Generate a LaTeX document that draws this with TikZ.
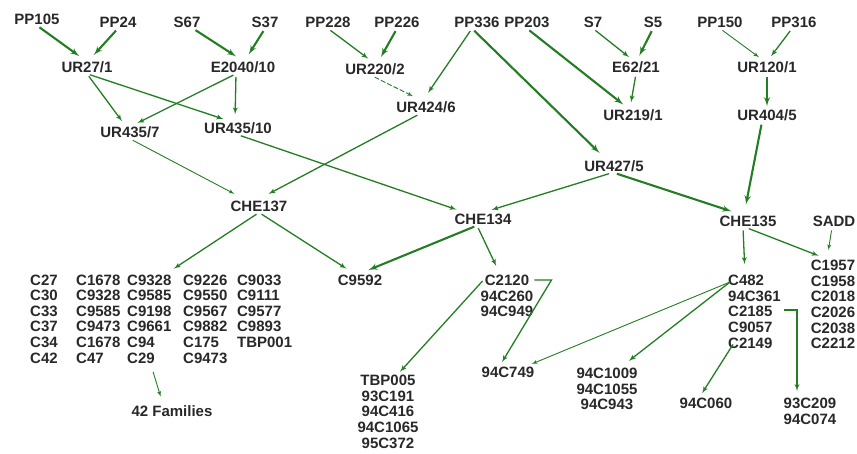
\documentclass[tikz,border=0pt]{standalone}
\usepackage{fontspec}
\setmainfont{Liberation Sans}
\usetikzlibrary{arrows}
\definecolor{pedgreen}{RGB}{35,125,35}
\definecolor{pedtext}{RGB}{40,40,40}
\setlength{\tabcolsep}{0pt}

\begin{document}
\begin{tikzpicture}[x=1pt,y=-1pt,>=latex',
  every node/.style={inner sep=1pt,text=pedtext,font=\bfseries\fontsize{15}{15.6}\selectfont},
  pedarr/.style={->,draw=pedgreen,shorten <=3pt,shorten >=7pt},
  weakarr/.style={pedarr,line width=0.9pt},
  midarr/.style={pedarr,line width=1.3pt},
  strongarr/.style={pedarr,line width=2.1pt}]
  \useasboundingbox (0,0) rectangle (857,453);

  \node (pp105) at (37,19) {PP105};
  \node (pp24) at (118,22) {PP24};
  \node (s67) at (187,22) {S67};
  \node (s37) at (265,22) {S37};
  \node (pp228) at (328,22) {PP228};
  \node (pp226) at (397,22) {PP226};
  \node (pp336) at (477,22) {PP336};
  \node (pp203) at (527,22) {PP203};
  \node (s7) at (593,22) {S7};
  \node (s5) at (653,22) {S5};
  \node (pp150) at (720,22) {PP150};
  \node (pp316) at (794,22) {PP316};

  \node (ur271) at (87,67) {UR27/1};
  \node (e2040) at (243,67) {E2040/10};
  \node (ur2202) at (375,69) {UR220/2};
  \node (e6221) at (636,67) {E62/21};
  \node (ur1201) at (767,67) {UR120/1};
  \node (ur4357) at (130,132) {UR435/7};
  \node (ur43510) at (238,128) {UR435/10};
  \node (ur4246) at (426,107) {UR424/6};
  \node (ur2191) at (633,115) {UR219/1};
  \node (ur4045) at (767,115) {UR404/5};
  \node (ur4275) at (614,166) {UR427/5};

  \node (che137) at (259,206) {CHE137};
  \node (che134) at (483,219) {CHE134};
  \node (che135) at (748,221) {CHE135};
  \node (sadd) at (834,221) {SADD};

  \node (fam) [anchor=north west] at (29,273) {\begin{tabular}{@{}p{46pt}p{51pt}p{56pt}p{54pt}l@{}}
    C27 & C1678 & C9328 & C9226 & C9033\\
    C30 & C9328 & C9585 & C9550 & C9111\\
    C33 & C9585 & C9198 & C9567 & C9577\\
    C37 & C9473 & C9661 & C9882 & C9893\\
    C34 & C1678 & C94 & C175 & TBP001\\
    C42 & C47 & C29 & C9473 &
  \end{tabular}};
  \node (fam42) at (172,411) {42 Families};
  \node (c9592) at (360,280) {C9592};
  \node (c2120) [anchor=north,align=center] at (507,274) {C2120\\94C260\\94C949};
  \node (tbp005) [anchor=north,align=center] at (388,374) {TBP005\\93C191\\94C416\\94C1065\\95C372};
  \node (c749) at (508,372) {94C749};
  \node (c482) [anchor=north west,align=left] at (727,274) {C482\\94C361\\C2185\\C9057\\C2149};
  \node (c1957) [anchor=north,align=center] at (833,259) {C1957\\C1958\\C2018\\C2026\\C2038\\C2212};
  \node (c1009) [anchor=north,align=center] at (607,367) {94C1009\\94C1055\\94C943};
  \node (c060) at (706,403) {94C060};
  \node (c209) [anchor=north,align=center] at (810,397) {93C209\\94C074};

  \draw[strongarr] (pp105.south) -- ([xshift=-2pt]ur271.north);
  \draw[strongarr] (pp24.south) -- ([xshift=2pt]ur271.north);
  \draw[strongarr] ([xshift=6pt]s67.south) -- ([xshift=-1pt]e2040.north);
  \draw[strongarr] (s37.south) -- ([xshift=2pt]e2040.north);
  \draw[midarr,shorten >=5pt] (ur271.south) -- ([xshift=-5pt]ur4357.north);
  \draw[midarr] (ur271.south) -- ([xshift=-8pt]ur43510.north);
  \draw[midarr,shorten >=5pt] ([xshift=-7pt]e2040.south) -- ([xshift=3pt]ur4357.north);
  \draw[midarr] ([xshift=-7pt]e2040.south) -- ([xshift=-3pt]ur43510.north);
  \draw[weakarr,shorten >=12pt] (ur4357.south) -- ([xshift=-14pt]che137.north);
  \draw[midarr,shorten >=12pt] ([xshift=-6pt]ur4246.south) -- ([xshift=-1pt]che137.north);
  \draw[midarr,shorten >=9pt] (ur43510.south) -- ([xshift=-18pt]che134.north);
  \draw[midarr,shorten >=9pt] ([xshift=-2pt]ur4275.south) -- (che134.north);
  \draw[strongarr,shorten >=10pt] (ur4275.south) -- ([xshift=-7pt]che135.north);
  \draw[strongarr,shorten >=10pt] ([xshift=-5pt]ur4045.south) -- ([xshift=-4pt]che135.north);

  \draw[midarr,shorten >=6pt] (pp228.south) -- ([xshift=-2pt]ur2202.north);
  \draw[strongarr,shorten >=6pt] (pp226.south) -- ([xshift=3pt]ur2202.north);
  \draw[weakarr,dash pattern=on 5pt off 2pt,shorten >=9pt] ([xshift=-3pt]ur2202.south) -- ([xshift=-5pt]ur4246.north);
  \draw[midarr,shorten >=9pt] ([xshift=-5pt]pp336.south) -- ([xshift=-3pt]ur4246.north);
  \draw[strongarr,shorten >=9pt] ([xshift=-5pt]pp336.south) -- ([xshift=-8pt]ur4275.north);
  \draw[strongarr,shorten >=6pt] (pp203.south) -- ([xshift=-5pt]ur2191.north);
  \draw[midarr,shorten >=6pt] (e6221.south) -- ([xshift=-3pt]ur2191.north);
  \draw[midarr,shorten >=5pt] (s7.south) -- ([xshift=-3pt]e6221.north);
  \draw[strongarr,shorten >=5pt] (s5.south) -- ([xshift=1pt]e6221.north);
  \draw[weakarr,shorten >=5pt] (pp150.south) -- ([xshift=-4pt]ur1201.north);
  \draw[midarr,shorten >=5pt] ([xshift=-2pt]pp316.south) -- ([xshift=1pt]ur1201.north);
  \draw[strongarr,shorten >=2pt] (ur1201.south) -- (ur4045.north);

  \draw[midarr,shorten >=8pt] (che137.south) -- ([xshift=6pt]fam.north);
  \draw[midarr,shorten >=9pt] (che137.south) -- ([xshift=-6pt]c9592.north);
  \draw[strongarr,shorten >=9pt] ([xshift=-6pt]che134.south) -- (c9592.north);
  \draw[midarr,shorten >=9pt] ([xshift=-6pt]che134.south) -- ([xshift=-7pt]c2120.north);
  \draw[midarr,shorten >=10pt] ([xshift=-5pt]che135.south) -- ([xshift=18pt]c482.north west);
  \draw[midarr,shorten >=9pt] ([xshift=-2pt]che135.south) -- ([xshift=-6pt]c1957.north);
  \draw[weakarr,shorten >=9pt] ([xshift=-2pt]sadd.south) -- ([xshift=-6pt]c1957.north);
  \draw[weakarr,shorten >=8pt] ([xshift=-9pt]fam.south) -- ([xshift=-9pt]fam42.north);

  \draw[midarr,shorten <=0pt,shorten >=3pt] ([xshift=3pt,yshift=-7pt]c2120.north west) -- ([xshift=10pt]tbp005.north);
  \draw[midarr,shorten <=0pt,shorten >=4pt] ([xshift=0pt,yshift=-6pt]c2120.north east) -- ++(17,0) -- ([xshift=-8pt]c749.north);
  \draw[weakarr,shorten <=0pt,shorten >=4pt] ([xshift=3pt,yshift=-8pt]c482.north west) -- ([xshift=20pt]c749.north);
  \draw[midarr,shorten <=0pt,shorten >=10pt] ([xshift=3pt,yshift=-8pt]c482.north west) -- ([xshift=14pt]c1009.north);
  \draw[midarr,shorten <=0pt,shorten >=4pt] ([xshift=6pt,yshift=5pt]c482.south west) -- ([xshift=-6pt]c060.north);
  \draw[midarr,shorten <=0pt,shorten >=6pt] ([xshift=2pt,yshift=-36pt]c482.north east) -| ([xshift=-13pt]c209.north);
\end{tikzpicture}
\end{document}
